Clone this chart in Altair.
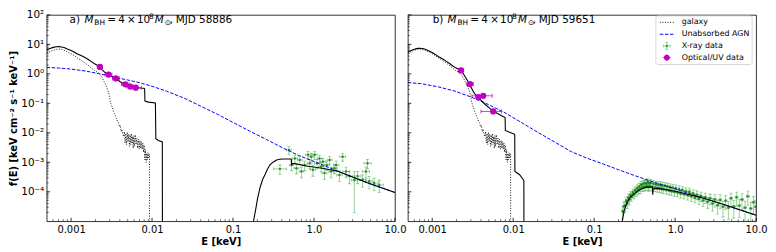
import altair as alt
import numpy as np
import pandas as pd

# ---------------- data ----------------
GALAXY = [(5.0e-4, 5.0), (5.5e-4, 5.7), (6.0e-4, 6.3), (6.6e-4, 6.8), (7.1e-4, 6.9), (7.6e-4, 6.7),
          (8.2e-4, 6.3), (9.0e-4, 5.6), (1.0e-3, 4.8), (1.1e-3, 4.1), (1.2e-3, 3.4), (1.35e-3, 2.8),
          (1.5e-3, 2.3), (1.65e-3, 1.9), (1.8e-3, 1.55), (1.95e-3, 1.3), (2.1e-3, 1.15), (2.25e-3, 0.98),
          (2.4e-3, 0.78), (2.55e-3, 0.55), (2.7e-3, 0.4), (2.85e-3, 0.28), (2.95e-3, 0.2), (3.05e-3, 0.12),
          (3.15e-3, 0.085), (3.25e-3, 0.07), (3.35e-3, 0.05), (3.45e-3, 0.045), (3.55e-3, 0.035),
          (3.65e-3, 0.03), (3.75e-3, 0.024), (3.85e-3, 0.022), (3.95e-3, 0.016), (4.05e-3, 0.018),
          (4.15e-3, 0.011), (4.25e-3, 0.013), (4.35e-3, 0.009), (4.45e-3, 0.0075), (4.55e-3, 0.011),
          (4.65e-3, 0.0045), (4.75e-3, 0.0095), (4.85e-3, 0.004), (4.95e-3, 0.0105), (5.05e-3, 0.005),
          (5.15e-3, 0.009), (5.25e-3, 0.0035), (5.35e-3, 0.0085), (5.45e-3, 0.004), (5.55e-3, 0.0095),
          (5.65e-3, 0.0045), (5.75e-3, 0.0075), (5.85e-3, 0.003), (5.95e-3, 0.008), (6.05e-3, 0.0035),
          (6.2e-3, 0.0085), (6.35e-3, 0.004), (6.5e-3, 0.0065), (6.65e-3, 0.003), (6.8e-3, 0.006),
          (6.95e-3, 0.0028), (7.1e-3, 0.0055), (7.25e-3, 0.003), (7.4e-3, 0.005), (7.55e-3, 0.0028),
          (7.7e-3, 0.0045), (7.85e-3, 0.0022), (8.0e-3, 0.0038), (8.15e-3, 0.0012), (8.3e-3, 0.0027),
          (8.45e-3, 0.001), (8.6e-3, 0.002), (8.75e-3, 0.0012), (8.9e-3, 0.0021), (9.05e-3, 0.0014),
          (9.2e-3, 0.002), (9.3e-3, 0.0017), (9.31e-3, 1e-7)]

BLUE_A = [(5e-4, 1.65), (7e-4, 1.58), (1e-3, 1.45), (1.5e-3, 1.25), (2.2e-3, 1.02), (3.5e-3, 0.76),
          (5e-3, 0.62), (7e-3, 0.5), (0.01, 0.38), (0.015, 0.26), (0.025, 0.15), (0.04, 0.08),
          (0.065, 0.042), (0.1, 0.0225), (0.16, 0.0115), (0.26, 0.0059), (0.42, 0.003), (0.65, 0.0017),
          (1.0, 0.00107), (2.0, 0.00049), (4.0, 0.000232), (10.0, 0.000095)]

BLACK_A_OPT = [(5.0e-4, 6.6), (5.5e-4, 7.3), (6.0e-4, 7.9), (6.6e-4, 8.3), (7.1e-4, 8.4), (7.6e-4, 8.2),
               (8.2e-4, 7.8), (9.0e-4, 7.0), (1.0e-3, 6.2), (1.1e-3, 5.4), (1.2e-3, 4.7), (1.35e-3, 4.1),
               (1.5e-3, 3.5), (1.65e-3, 3.0), (1.8e-3, 2.55), (1.95e-3, 2.2), (2.1e-3, 1.95), (2.25e-3, 1.7),
               (2.4e-3, 1.4), (2.6e-3, 1.15), (2.8e-3, 0.98), (3.0e-3, 0.88), (3.3e-3, 0.78), (3.6e-3, 0.68),
               (4.0e-3, 0.55), (4.5e-3, 0.45), (5.0e-3, 0.40), (5.5e-3, 0.37), (6.0e-3, 0.35), (6.5e-3, 0.34),
               (7.2e-3, 0.33), (7.9e-3, 0.325), (8.1e-3, 0.31), (8.17e-3, 0.12), (9.0e-3, 0.11),
               (0.0110, 0.103), (0.01115, 0.0063), (0.012, 0.0055), (0.0134, 0.0049), (0.01345, 1e-7)]

BLACK_A_X = [(0.175, 1e-7), (0.179, 1e-5), (0.19, 2.4e-5), (0.2, 5.5e-5), (0.216, 1.4e-4), (0.232, 2.6e-4),
             (0.248, 3.8e-4), (0.266, 5.8e-4), (0.286, 8.2e-4), (0.315, 1.03e-3), (0.345, 1.2e-3),
             (0.38, 1.27e-3), (0.416, 1.3e-3), (0.46, 1.3e-3), (0.5, 1.3e-3), (0.525, 1.27e-3),
             (0.53, 8.0e-4), (0.535, 9.2e-4), (0.58, 9.0e-4), (0.8, 7.5e-4), (1.2, 6.4e-4), (1.6, 5.6e-4),
             (2.0, 4.9e-4), (3.0, 3.15e-4), (5.0, 1.85e-4), (10.0, 9.5e-5)]

BLUE_B = [(5e-4, 0.51), (7.5e-4, 0.46), (1.2e-3, 0.36), (1.9e-3, 0.26), (3.0e-3, 0.165), (4.9e-3, 0.092),
          (7.9e-3, 0.048), (0.0126, 0.0225), (0.02, 0.0105), (0.032, 0.005), (0.052, 0.0023),
          (0.0826, 1.36e-3), (0.13, 8.7e-4), (0.2, 5.6e-4), (0.32, 3.5e-4), (0.5, 2.3e-4), (1.0, 1.25e-4),
          (2.0, 6.7e-5), (4.0, 3.65e-5), (10.0, 1.6e-5)]

BLACK_B_OPT = [(5.0e-4, 5.5), (5.5e-4, 6.2), (6.0e-4, 6.8), (6.6e-4, 7.3), (7.1e-4, 7.4), (7.6e-4, 7.2),
               (8.2e-4, 6.8), (9.0e-4, 6.1), (1.0e-3, 5.3), (1.1e-3, 4.5), (1.2e-3, 3.8), (1.35e-3, 3.2),
               (1.5e-3, 2.65), (1.65e-3, 2.2), (1.8e-3, 1.85), (1.95e-3, 1.6), (2.1e-3, 1.45), (2.27e-3, 1.27),
               (2.4e-3, 1.05), (2.55e-3, 0.8), (2.7e-3, 0.62), (2.85e-3, 0.48), (3.0e-3, 0.36), (3.2e-3, 0.26),
               (3.4e-3, 0.2), (3.7e-3, 0.16), (4.07e-3, 0.12), (4.6e-3, 0.088), (5.2e-3, 0.066),
               (5.67e-3, 0.055), (6.4e-3, 0.045), (7.2e-3, 0.038), (7.95e-3, 0.033), (8.0e-3, 0.012),
               (9.0e-3, 0.0105), (0.0102, 0.0092), (0.01045, 0.0088), (0.0105, 4.9e-4), (0.012, 3.8e-4),
               (0.0133, 2.6e-4), (0.01355, 2.3e-4), (0.0136, 1e-7)]

BLACK_B_X = [(0.215, 1e-7), (0.222, 1e-5), (0.235, 2.3e-5), (0.255, 4.4e-5), (0.28, 6.6e-5), (0.308, 8.3e-5),
             (0.34, 1.03e-4), (0.372, 1.2e-4), (0.41, 1.35e-4), (0.45, 1.44e-4), (0.5, 1.46e-4),
             (0.525, 1.45e-4), (0.53, 8.0e-5), (0.535, 1.25e-4), (0.6, 1.3e-4), (0.7, 1.25e-4),
             (0.867, 1.12e-4), (1.1, 9.8e-5), (1.39, 8.4e-5), (2.0, 6.6e-5), (4.0, 3.7e-5), (10.0, 1.6e-5)]

# X-ray data, panel a: (E, f, relative y error, half-width in dex)
XRAY_A = [(0.38, 6.0e-4, 0.35, 0.08), (0.49, 2.6e-3, 0.3, 0.03), (0.527, 8.1e-4, 0.35, 0.025),
          (0.58, 1.35e-3, 0.3, 0.03), (0.607, 6.3e-4, 0.35, 0.03), (0.667, 1.2e-3, 0.3, 0.03),
          (0.70, 4.9e-4, 0.4, 0.03), (0.768, 8.1e-4, 0.35, 0.03), (0.844, 1.8e-3, 0.3, 0.03),
          (0.885, 9.3e-4, 0.35, 0.03), (0.927, 1.55e-3, 0.3, 0.03), (0.97, 5.6e-4, 0.4, 0.03),
          (1.02, 1.8e-3, 0.3, 0.03), (1.09, 9.3e-4, 0.35, 0.03), (1.17, 1.35e-3, 0.3, 0.03),
          (1.23, 7.2e-4, 0.35, 0.03), (1.29, 1.05e-3, 0.3, 0.03), (1.35, 4.3e-4, 0.4, 0.03),
          (1.44, 8.1e-4, 0.35, 0.03), (1.56, 1.2e-3, 0.3, 0.03), (1.63, 4.9e-4, 0.4, 0.03),
          (1.79, 6.3e-4, 0.35, 0.035), (1.88, 8.1e-4, 0.35, 0.035), (2.06, 3.7e-4, 0.4, 0.035),
          (2.26, 1.55e-3, 0.3, 0.035), (2.49, 4.9e-4, 0.4, 0.04), (2.74, 3.4e-4, 0.45, 0.04),
          (3.15, 2.5e-4, 0.92, 0.04), (3.46, 3.4e-4, 0.45, 0.04), (3.98, 2.6e-4, 0.45, 0.045),
          (4.38, 4.9e-4, 0.4, 0.045), (4.58, 9.3e-4, 0.35, 0.045), (4.8, 2.3e-4, 0.45, 0.045),
          (5.53, 2.0e-4, 0.45, 0.05), (6.4, 1.7e-4, 0.45, 0.05)]

# X-ray data, panel b: (E, f, relative y error)
XRAY_B = [(0.225, 2.2e-5, 0.45), (0.232, 3.2e-5, 0.4), (0.24, 3.4e-5, 0.4), (0.248, 5.0e-5, 0.35),
          (0.256, 4.1e-5, 0.35), (0.264, 6.3e-5, 0.35), (0.272, 5.4e-5, 0.35), (0.28, 7.8e-5, 0.3),
          (0.29, 6.8e-5, 0.3), (0.30, 9.5e-5, 0.3), (0.31, 8.3e-5, 0.3), (0.32, 1.12e-4, 0.3),
          (0.33, 9.8e-5, 0.3), (0.34, 1.32e-4, 0.3), (0.35, 1.12e-4, 0.3), (0.36, 1.5e-4, 0.3),
          (0.37, 1.25e-4, 0.3), (0.38, 1.72e-4, 0.28), (0.39, 1.4e-4, 0.28), (0.40, 1.85e-4, 0.28),
          (0.41, 1.45e-4, 0.28), (0.42, 2.0e-4, 0.28), (0.43, 1.5e-4, 0.28), (0.44, 1.9e-4, 0.28),
          (0.45, 1.55e-4, 0.28), (0.46, 2.15e-4, 0.28), (0.47, 1.45e-4, 0.28), (0.48, 1.95e-4, 0.28),
          (0.49, 1.55e-4, 0.28), (0.50, 2.05e-4, 0.28), (0.52, 1.45e-4, 0.28), (0.54, 1.9e-4, 0.28),
          (0.56, 1.4e-4, 0.28), (0.58, 1.8e-4, 0.28), (0.60, 1.35e-4, 0.28), (0.62, 1.75e-4, 0.28),
          (0.64, 1.32e-4, 0.28), (0.66, 1.7e-4, 0.28), (0.68, 1.25e-4, 0.28), (0.70, 1.65e-4, 0.28),
          (0.72, 1.22e-4, 0.28), (0.75, 1.6e-4, 0.28), (0.78, 1.15e-4, 0.28), (0.81, 1.52e-4, 0.28),
          (0.84, 1.1e-4, 0.28), (0.87, 1.45e-4, 0.28), (0.90, 1.05e-4, 0.28), (0.94, 1.38e-4, 0.3),
          (0.98, 1.0e-4, 0.3), (1.02, 1.32e-4, 0.3), (1.07, 9.6e-5, 0.3), (1.12, 1.22e-4, 0.3),
          (1.17, 8.7e-5, 0.3), (1.23, 1.15e-4, 0.3), (1.29, 8.2e-5, 0.3), (1.36, 1.05e-4, 0.3),
          (1.43, 7.7e-5, 0.32), (1.50, 1.0e-4, 0.32), (1.58, 7.0e-5, 0.32), (1.67, 8.8e-5, 0.32),
          (1.76, 6.3e-5, 0.33), (1.86, 8.0e-5, 0.33), (1.97, 5.8e-5, 0.35), (2.09, 7.2e-5, 0.35),
          (2.22, 5.1e-5, 0.38), (2.36, 6.5e-5, 0.38), (2.52, 4.6e-5, 0.4), (2.7, 6.0e-5, 0.4),
          (2.9, 4.0e-5, 0.45), (3.1, 5.5e-5, 0.45), (3.35, 3.5e-5, 0.5), (3.6, 5.3e-5, 0.5),
          (3.9, 3.1e-5, 0.55), (4.2, 5.0e-5, 0.5), (4.55, 2.9e-5, 0.6), (4.9, 6.0e-5, 0.5),
          (5.3, 3.2e-5, 0.6), (5.75, 6.5e-5, 0.5), (6.2, 3.4e-5, 0.6), (6.7, 5.5e-5, 0.55),
          (7.3, 2.9e-5, 0.65), (7.9, 7.0e-5, 0.5), (8.6, 2.7e-5, 0.65), (9.3, 4.4e-5, 0.6),
          (9.9, 3.1e-5, 0.65)]

# Optical/UV data: (E, f, E_low, E_high)
OPT_A = [(0.00227, 1.71, 0.00212, 0.00243), (0.0029, 0.95, 0.00262, 0.0032), (0.00358, 0.70, 0.00325, 0.00395),
         (0.00468, 0.44, 0.0042, 0.0052), (0.00537, 0.37, 0.0049, 0.0059), (0.00629, 0.34, 0.0057, 0.0074)]
OPT_B = [(0.00227, 1.31, 0.00211, 0.00244), (0.00293, 0.45, 0.00267, 0.00322), (0.00371, 0.163, 0.0035, 0.0039),
         (0.00427, 0.18, 0.0031, 0.0055), (0.00566, 0.053, 0.0040, 0.00716)]
OPT_YERR = 0.08

X_LABELS = [0.001, 0.01, 0.1, 1.0, 10.0]
X_MINOR = [6e-4, 7e-4, 8e-4, 9e-4, 2e-3, 3e-3, 4e-3, 5e-3, 6e-3, 7e-3, 8e-3, 9e-3,
           0.02, 0.03, 0.04, 0.05, 0.06, 0.07, 0.08, 0.09, 0.2, 0.3, 0.4, 0.5, 0.6, 0.7, 0.8, 0.9,
           2.0, 3.0, 4.0, 5.0, 6.0, 7.0, 8.0, 9.0]
Y_LABELS = [1e-4, 1e-3, 1e-2, 1e-1, 1.0, 10.0, 100.0]
Y_MINOR = [m * d for d in [1e-5, 1e-4, 1e-3, 1e-2, 1e-1, 1.0, 10.0] for m in range(2, 10)]

# ---------------- styling ----------------
FONT = "DejaVu Sans"
W, H = 351, 208
GREEN = "#2ca02c"
GREEN_DARK = "#1a801a"
MAG = "#c000c0"
YT = "f(E) [keV cm⁻² s⁻¹ keV⁻¹]"

XS = alt.Scale(type="log", domain=[5e-4, 10], nice=False)
YS = alt.Scale(type="log", domain=[1e-5, 100], nice=False)
XAX = alt.Axis(values=X_LABELS, ticks=False, domain=False, grid=False,
               labelExpr="datum.value >= 1 ? format(datum.value, '.1f') : format(datum.value, '~g')",
               labelFontSize=10, labelColor="black", labelPadding=3, labelFlush=False, labelOverlap=False,
               labelFont=FONT, titleFont=FONT, titleFontSize=10, titleFontWeight="bold",
               titleColor="black", titlePadding=2)
YAX = alt.Axis(values=Y_LABELS, ticks=False, domain=False, grid=False,
               labelExpr="['10⁻⁵','10⁻⁴','10⁻³','10⁻²','10⁻¹','10⁰','10¹','10²'][round(log(datum.value)/LN10)+5]",
               labelFontSize=10.5, labelColor="black", labelPadding=3, labelOverlap=False,
               labelFont=FONT, titleFont=FONT, titleFontSize=10, titleFontWeight="bold",
               titleColor="black", titlePadding=2)
ONE = pd.DataFrame({"k": [0]})


def panel(letter, mjd, blue, black_opt, black_x, xray, opt, yaxis, legend, ox):
    def X(f="E"):
        return alt.X(f + ":Q", scale=XS, axis=XAX, title="E [keV]")

    def Y(f="f"):
        return alt.Y(f + ":Q", scale=YS, axis=yaxis, title=YT)

    def line(pairs, **kw):
        df = pd.DataFrame(pairs, columns=["E", "f"])
        df["i"] = range(len(df))
        return alt.Chart(df).mark_line(clip=True, **kw).encode(x=X(), y=Y(), order="i:Q")

    def txt(s, x, y, size=10.5, style="normal", color="black", baseline="alphabetic"):
        return alt.Chart(ONE).mark_text(text=s, align="left", baseline=baseline, fontSize=size,
                                        fontStyle=style, color=color, font=FONT).encode(
            x=alt.value(x), y=alt.value(y))

    def seg(x1, x2, y1, y2, color, **kw):
        return alt.Chart(ONE).mark_rule(color=color, **kw).encode(
            x=alt.value(x1), x2=alt.value(x2), y=alt.value(y1), y2=alt.value(y2))

    layers = []
    # X-ray data
    xd = xray
    layers += [
        alt.Chart(xd).mark_rule(color=GREEN, opacity=0.55, strokeWidth=0.9, clip=True).encode(
            x=X(), y=Y("flo"), y2="fhi:Q"),
        alt.Chart(xd).mark_rule(color=GREEN, opacity=0.55, strokeWidth=0.9, clip=True).encode(
            x=X("Elo"), x2="Ehi:Q", y=Y()),
        alt.Chart(xd).mark_tick(color=GREEN, opacity=0.55, orient="horizontal", size=3, thickness=0.8,
                                clip=True).encode(x=X(), y=Y("flo")),
        alt.Chart(xd).mark_tick(color=GREEN, opacity=0.55, orient="horizontal", size=3, thickness=0.8,
                                clip=True).encode(x=X(), y=Y("fhi")),
        alt.Chart(xd).mark_tick(color=GREEN, opacity=0.55, orient="vertical", size=3, thickness=0.8,
                                clip=True).encode(x=X("Elo"), y=Y()),
        alt.Chart(xd).mark_tick(color=GREEN, opacity=0.55, orient="vertical", size=3, thickness=0.8,
                                clip=True).encode(x=X("Ehi"), y=Y()),
        alt.Chart(xd).mark_point(color=GREEN_DARK, filled=True, opacity=0.85, size=6, clip=True).encode(
            x=X(), y=Y()),
    ]
    # models
    layers += [
        line(GALAXY, color="black", strokeWidth=0.9, strokeDash=[1, 1.6]),
        line(blue, color="#0000ff", strokeWidth=1.0, strokeDash=[3.5, 1.6]),
        line(black_opt, color="black", strokeWidth=1.1),
        line(black_x, color="black", strokeWidth=1.1),
    ]
    # optical / UV data
    od = opt
    layers += [
        alt.Chart(od).mark_rule(color=MAG, opacity=0.75, strokeWidth=1.0, clip=True).encode(
            x=X("Elo"), x2="Ehi:Q", y=Y()),
        alt.Chart(od).mark_rule(color=MAG, opacity=0.75, strokeWidth=1.0, clip=True).encode(
            x=X(), y=Y("flo"), y2="fhi:Q"),
        alt.Chart(od).mark_tick(color=MAG, opacity=0.75, orient="vertical", size=4, thickness=1,
                                clip=True).encode(x=X("Elo"), y=Y()),
        alt.Chart(od).mark_tick(color=MAG, opacity=0.75, orient="vertical", size=4, thickness=1,
                                clip=True).encode(x=X("Ehi"), y=Y()),
        alt.Chart(od).mark_point(color=MAG, filled=True, opacity=1, size=40, shape="circle",
                                 clip=True).encode(x=X(), y=Y()),
    ]
    # inward ticks
    layers += [
        alt.Chart(pd.DataFrame({"E": X_LABELS})).mark_rule(color="black", strokeWidth=0.8).encode(
            x=X(), y=alt.value(H), y2=alt.value(H - 3.5)),
        alt.Chart(pd.DataFrame({"E": X_MINOR})).mark_rule(color="black", strokeWidth=0.6).encode(
            x=X(), y=alt.value(H), y2=alt.value(H - 2)),
        alt.Chart(pd.DataFrame({"f": Y_LABELS})).mark_rule(color="black", strokeWidth=0.8).encode(
            y=Y(), x=alt.value(0), x2=alt.value(3.5)),
        alt.Chart(pd.DataFrame({"f": Y_MINOR})).mark_rule(color="black", strokeWidth=0.6).encode(
            y=Y(), x=alt.value(0), x2=alt.value(2)),
    ]
    # panel label: "a) M_BH = 4 x 10^8 M_sun, MJD 58886"
    by = 8
    layers += [
        txt(letter + ")", ox, by),
        txt("M", ox + 15, by, style="italic"),
        txt("BH", ox + 25, by + 2.5, size=7.5),
        txt("=", ox + 38, by),
        txt("4", ox + 49, by),
        txt("×", ox + 58, by),
        txt("10", ox + 68, by),
        txt("8", ox + 80, by - 4, size=7.5),
        txt("M", ox + 86, by, style="italic"),
        txt("⊙", ox + 96, by + 2.5, size=7.5),
        txt(",", ox + 101, by),
        txt("MJD " + mjd, ox + 107, by),
    ]
    if legend:
        box = alt.Chart(ONE).mark_rect(fill="white", fillOpacity=0.8, stroke="#cccccc", strokeWidth=0.8,
                                       cornerRadius=2).encode(
            x=alt.value(250), x2=alt.value(347), y=alt.value(1), y2=alt.value(50))
        layers += [
            box,
            seg(254, 268, 7.5, 7.5, "black", strokeWidth=0.9, strokeDash=[1, 1.6]),
            seg(254, 268, 19.5, 19.5, "#0000ff", strokeWidth=1.0, strokeDash=[3.5, 1.6]),
            seg(257.5, 264.5, 31.3, 31.3, GREEN, opacity=0.55, strokeWidth=0.9),
            seg(261, 261, 27.8, 34.8, GREEN, opacity=0.55, strokeWidth=0.9),
            seg(259.5, 262.5, 27.8, 27.8, GREEN, opacity=0.55, strokeWidth=0.8),
            seg(259.5, 262.5, 34.8, 34.8, GREEN, opacity=0.55, strokeWidth=0.8),
            seg(257.5, 257.5, 29.8, 32.8, GREEN, opacity=0.55, strokeWidth=0.8),
            seg(264.5, 264.5, 29.8, 32.8, GREEN, opacity=0.55, strokeWidth=0.8),
            alt.Chart(ONE).mark_point(color=GREEN_DARK, filled=True, size=6).encode(
                x=alt.value(261), y=alt.value(31.3)),
            seg(257, 265, 43, 43, MAG, opacity=0.75, strokeWidth=1.0),
            seg(261, 261, 39.5, 46.5, MAG, opacity=0.75, strokeWidth=1.0),
            alt.Chart(ONE).mark_point(color=MAG, filled=True, opacity=1, size=34, shape="circle").encode(
                x=alt.value(261), y=alt.value(43)),
            txt("galaxy", 276, 7.5, size=8, baseline="middle"),
            txt("Unabsorbed AGN", 276, 19.5, size=8, baseline="middle"),
            txt("X-ray data", 276, 31.3, size=8, baseline="middle"),
            txt("Optical/UV data", 276, 43, size=8, baseline="middle"),
        ]
    return alt.layer(*layers).properties(width=W, height=H)


def xray_frame(rows, widths=None):
    df = pd.DataFrame(rows, columns=["E", "f", "ye"] + (["xe"] if widths is None else []))
    df["flo"] = df["f"] * (1 - df["ye"])
    df["fhi"] = df["f"] * (1 + df["ye"])
    if widths is None:
        df["Elo"] = df["E"] / 10 ** df["xe"]
        df["Ehi"] = df["E"] * 10 ** df["xe"]
    else:
        le = np.log10(df["E"].to_numpy())
        mids = (le[:-1] + le[1:]) / 2
        lo = np.concatenate([[le[0] - (le[1] - le[0]) / 2], mids])
        hi = np.concatenate([mids, [le[-1] + (le[-1] - le[-2]) / 2]])
        df["Elo"] = 10 ** lo
        df["Ehi"] = 10 ** hi
    return df


def opt_frame(rows):
    df = pd.DataFrame(rows, columns=["E", "f", "Elo", "Ehi"])
    df["flo"] = df["f"] * (1 - OPT_YERR)
    df["fhi"] = df["f"] * (1 + OPT_YERR)
    return df


pa = panel("a", "58886", BLUE_A, BLACK_A_OPT, BLACK_A_X, xray_frame(XRAY_A), opt_frame(OPT_A),
           YAX, False, 23)
pb = panel("b", "59651", BLUE_B, BLACK_B_OPT, BLACK_B_X, xray_frame(XRAY_B, widths="bins"), opt_frame(OPT_B),
           None, True, 25)

chart = alt.hconcat(pa, pb, spacing=13, bounds="flush").properties(
    padding={"left": 0, "top": 0, "right": 0, "bottom": 0}
).configure(font=FONT).configure_view(stroke="black", strokeWidth=0.8)

chart.save("out.html", embed_options={"renderer": "svg", "actions": False})
